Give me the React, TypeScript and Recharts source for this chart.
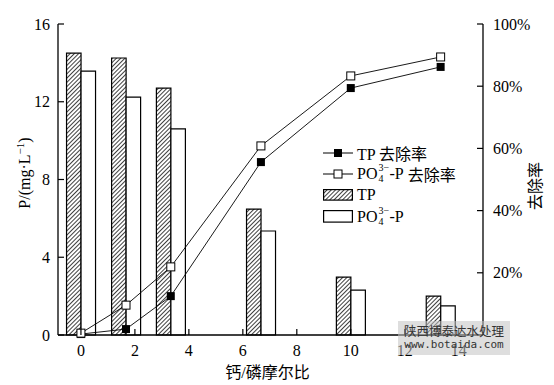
import React from 'react';
import { ComposedChart, Bar, Line, XAxis, YAxis, Legend } from 'recharts';

// Ca/P molar ratio (x positions of each group)
const ratios = [0, 1.67, 3.33, 6.67, 10, 13.33];
// Concentrations, mg/L
const tpConc = [14.5, 14.25, 12.7, 6.48, 2.98, 2.0];
const po4Conc = [13.58, 12.24, 10.6, 5.35, 2.31, 1.5];
// Removal rates, %
const tpRemoval = [0.3, 1.9, 12.5, 55.6, 79.4, 86.2];
const po4Removal = [0.6, 9.6, 21.9, 60.8, 83.3, 89.4];
// Tick labels
const xTicks = [0, 2, 4, 6, 8, 10, 12, 14];
const leftTicks = [0, 4, 8, 12, 16];
const rightTicks = [20, 40, 60, 80, 100];

const data = ratios.map((x, i) => ({
  x,
  tp: tpConc[i],
  po4: po4Conc[i],
  tpRem: tpRemoval[i],
  po4Rem: po4Removal[i],
}));

const FONT = '"Liberation Serif", "Times New Roman", "Noto Sans CJK SC", serif';
const TICK_LEN = 6;

const XTick = (props: any) => {
  const { x, y, payload } = props;
  return (
    <g>
      <line x1={x} y1={y} x2={x} y2={y - TICK_LEN} stroke="#000" strokeWidth={1.2} />
      <text x={x} y={y + 21} textAnchor="middle" fontFamily={FONT} fontSize={16} fill="#000">
        {payload.value}
      </text>
    </g>
  );
};

const LeftTick = (props: any) => {
  const { x, y, payload } = props;
  return (
    <g>
      <line x1={x} y1={y} x2={x + TICK_LEN} y2={y} stroke="#000" strokeWidth={1.2} />
      <text x={x - 8} y={y + 5.5} textAnchor="end" fontFamily={FONT} fontSize={16} fill="#000">
        {payload.value}
      </text>
    </g>
  );
};

const RightTick = (props: any) => {
  const { x, y, payload } = props;
  return (
    <g>
      <line x1={x} y1={y} x2={x - TICK_LEN} y2={y} stroke="#000" strokeWidth={1.2} />
      <text x={x + 10} y={y + 5.5} textAnchor="start" fontFamily={FONT} fontSize={16} fill="#000">
        {payload.value}%
      </text>
    </g>
  );
};

const FilledSquare = (props: any) => {
  const { cx, cy, index } = props;
  if (cx == null || cy == null) return <g key={`fs${index}`} />;
  return <rect key={`fs${index}`} x={cx - 4} y={cy - 4} width={8} height={8} fill="#000" />;
};

const OpenSquare = (props: any) => {
  const { cx, cy, index } = props;
  if (cx == null || cy == null) return <g key={`os${index}`} />;
  return (
    <rect key={`os${index}`} x={cx - 4} y={cy - 4} width={8} height={8} fill="#fff" stroke="#000" strokeWidth={1} />
  );
};

const Po4Text = () => (
  <span style={{ display: 'inline-flex', alignItems: 'center', height: 21 }}>
    <span>PO</span>
    <span
      style={{
        position: 'relative',
        display: 'inline-block',
        width: 12,
        height: 21,
        fontSize: 10,
        lineHeight: '10px',
      }}
    >
      <span style={{ position: 'absolute', left: 1, top: 0 }}>3−</span>
      <span style={{ position: 'absolute', left: 1, top: 11 }}>4</span>
    </span>
    <span>-P</span>
  </span>
);

const rowStyle: React.CSSProperties = {
  display: 'flex',
  alignItems: 'center',
  height: 21,
  whiteSpace: 'nowrap',
};

const LegendContent = () => (
  <div style={{ fontFamily: FONT, fontSize: 16, color: '#000' }}>
    <div style={rowStyle}>
      <svg width={30} height={12} style={{ marginRight: 4 }}>
        <line x1={0} y1={6} x2={30} y2={6} stroke="#000" strokeWidth={1} />
        <rect x={11} y={2} width={8} height={8} fill="#000" />
      </svg>
      <span>TP 去除率</span>
    </div>
    <div style={rowStyle}>
      <svg width={30} height={12} style={{ marginRight: 4 }}>
        <line x1={0} y1={6} x2={30} y2={6} stroke="#000" strokeWidth={1} />
        <rect x={11} y={2} width={8} height={8} fill="#fff" stroke="#000" strokeWidth={1} />
      </svg>
      <Po4Text />
      <span style={{ marginLeft: 4 }}>去除率</span>
    </div>
    <div style={{ ...rowStyle, height: 22 }}>
      <svg width={30} height={12} style={{ marginRight: 4 }}>
        <defs>
          <pattern id="hatchLeg" patternUnits="userSpaceOnUse" width={3} height={3} patternTransform="rotate(45)">
            <line x1={0} y1={0} x2={0} y2={3} stroke="#000" strokeWidth={1.5} />
          </pattern>
        </defs>
        <rect x={0.6} y={0.6} width={28.8} height={10.5} fill="url(#hatchLeg)" stroke="#000" strokeWidth={1.2} />
      </svg>
      <span>TP</span>
    </div>
    <div style={rowStyle}>
      <svg width={30} height={13} style={{ marginRight: 4 }}>
        <rect x={0.6} y={0.6} width={28.8} height={11.5} fill="#fff" stroke="#000" strokeWidth={1.2} />
      </svg>
      <Po4Text />
    </div>
  </div>
);

const XLabel = (props: any) => {
  const vb = props.viewBox || {};
  const cx = (vb.x ?? 58) + (vb.width ?? 425) / 2 - 3;
  return (
    <text x={cx} y={378} textAnchor="middle" fontFamily={FONT} fontSize={16} fill="#000">
      钙/磷摩尔比
    </text>
  );
};

const LeftLabel = () => (
  <text
    x={0}
    y={0}
    transform="translate(30, 173) rotate(-90)"
    textAnchor="middle"
    fontFamily={FONT}
    fontSize={16}
    fill="#000"
  >
    P/(mg·L
    <tspan dy={-6} fontSize={11}>
      −1
    </tspan>
    <tspan dy={6}>)</tspan>
  </text>
);

const RightLabel = () => (
  <text
    x={0}
    y={0}
    transform="translate(541, 186) rotate(-90)"
    textAnchor="middle"
    fontFamily={FONT}
    fontSize={16}
    fill="#000"
  >
    去除率
  </text>
);

export default function App() {
  return (
    <div style={{ position: 'absolute', left: 0, top: 0, width: 554, height: 385, background: '#fff' }}>
      <ComposedChart
        width={554}
        height={385}
        data={data}
        margin={{ top: 24, right: 0, bottom: 0, left: 0 }}
        barGap={0}
      >
        <defs>
          <pattern id="hatch" patternUnits="userSpaceOnUse" width={3} height={3} patternTransform="rotate(45)">
            <line x1={0} y1={0} x2={0} y2={3} stroke="#000" strokeWidth={1.5} />
          </pattern>
        </defs>
        <XAxis
          dataKey="x"
          type="number"
          domain={[-0.85, 14.9]}
          ticks={xTicks}
          allowDataOverflow
          height={50}
          axisLine={{ stroke: '#000', strokeWidth: 1.3 }}
          tickLine={false}
          tickSize={0}
          tickMargin={0}
          tick={<XTick />}
          interval={0}
          label={<XLabel />}
        />
        <YAxis
          yAxisId="left"
          orientation="left"
          width={58}
          domain={[0, 16]}
          ticks={leftTicks}
          axisLine={{ stroke: '#000', strokeWidth: 1.3 }}
          tickLine={false}
          tickSize={0}
          tickMargin={0}
          tick={<LeftTick />}
          interval={0}
          label={<LeftLabel />}
        />
        <YAxis
          yAxisId="right"
          orientation="right"
          width={71}
          domain={[0, 100]}
          ticks={rightTicks}
          axisLine={{ stroke: '#000', strokeWidth: 1.3 }}
          tickLine={false}
          tickSize={0}
          tickMargin={0}
          tick={<RightTick />}
          interval={0}
          label={<RightLabel />}
        />
        <Bar
          yAxisId="left"
          dataKey="tp"
          barSize={14.5}
          fill="url(#hatch)"
          stroke="#000"
          strokeWidth={1.2}
          isAnimationActive={false}
        />
        <Bar
          yAxisId="left"
          dataKey="po4"
          barSize={14.5}
          fill="#fff"
          stroke="#000"
          strokeWidth={1.2}
          isAnimationActive={false}
        />
        <Line
          yAxisId="right"
          dataKey="tpRem"
          type="linear"
          stroke="#000"
          strokeWidth={0.9}
          dot={FilledSquare}
          activeDot={false}
          isAnimationActive={false}
        />
        <Line
          yAxisId="right"
          dataKey="po4Rem"
          type="linear"
          stroke="#000"
          strokeWidth={0.9}
          dot={OpenSquare}
          activeDot={false}
          isAnimationActive={false}
        />
        <Legend
          layout="vertical"
          align="center"
          verticalAlign="middle"
          content={<LegendContent />}
          wrapperStyle={{ left: 323, top: 142, width: 200, height: 90 }}
        />
      </ComposedChart>
      <div
        style={{
          position: 'absolute',
          left: 398,
          top: 321,
          width: 112,
          height: 34,
          background: 'rgba(195,195,195,0.55)',
          color: '#333',
          textAlign: 'center',
          pointerEvents: 'none',
        }}
      >
        <div style={{ fontFamily: '"Noto Sans CJK SC", sans-serif', fontSize: 12.5, lineHeight: '14px', marginTop: 3 }}>
          陕西博泰达水处理
        </div>
        <div style={{ fontFamily: '"DejaVu Sans Mono", monospace', fontSize: 11, lineHeight: '13px' }}>
          www.botaida.com
        </div>
      </div>
    </div>
  );
}
